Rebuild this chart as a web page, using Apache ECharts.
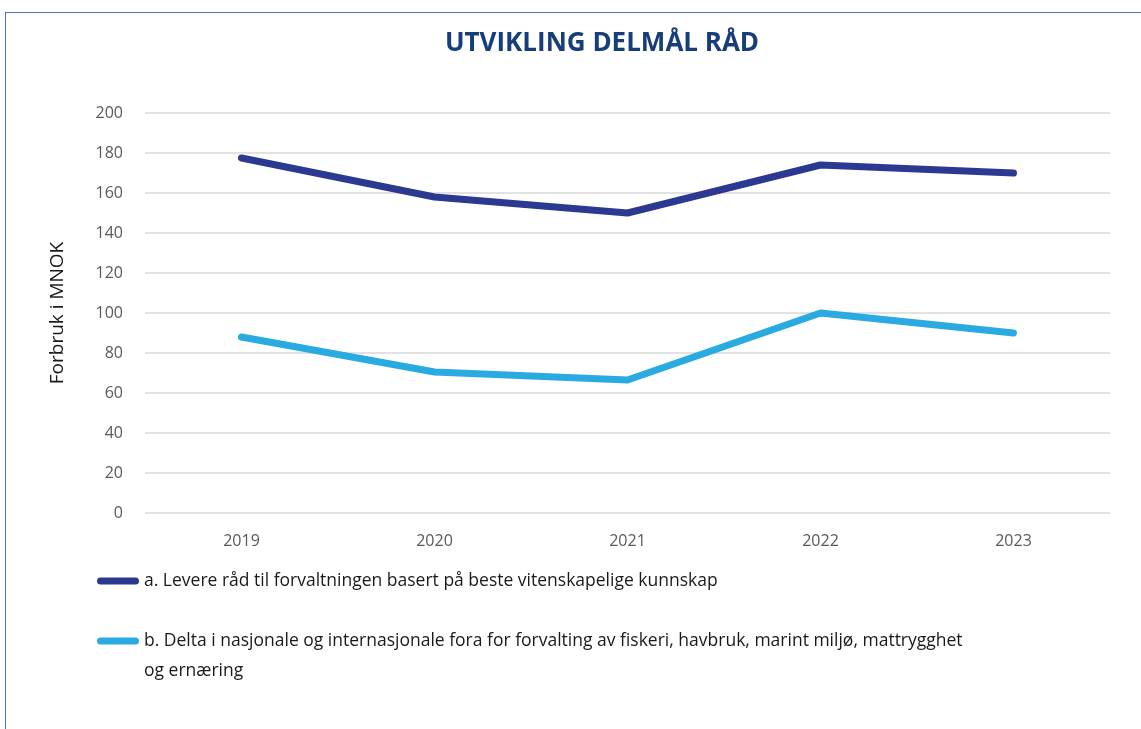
<!DOCTYPE html>
<html>
<head>
<meta charset="utf-8">
<style>
  html, body { margin: 0; padding: 0; background: #fff; }
  #frame { position: absolute; left: 5px; top: 12px; right: 0; bottom: 0;
           border-left: 1.5px solid #4a72b8; border-top: 1.5px solid #4a72b8; }
  #chart { position: absolute; left: 0; top: 0; width: 1141px; height: 729px; }
</style>
<script src="https://cdn.jsdelivr.net/npm/echarts@6/dist/echarts.min.js"></script>
</head>
<body>
<div id="frame"></div>
<div id="chart"></div>
<script>
  const years = ['2019', '2020', '2021', '2022', '2023'];
  const seriesA = [177.5, 158, 150, 174, 170];
  const seriesB = [88, 70.5, 66.5, 100, 90];
  const nameA = 'a. Levere råd til forvaltningen basert på beste vitenskapelige kunnskap';
  const nameB = 'b. Delta i nasjonale og internasjonale fora for forvalting av fiskeri, havbruk, marint miljø, mattrygghet og ernæring';

  // legend icons are 42x60 boxes; the rounded bar sits at the middle (a)
  // or at the first text line (b, which wraps to two lines)
  const barIcon = (y) =>
    'path://M0,0L0.01,0M0,60L0.01,60' +
    `M3.5,${y}L38.5,${y}A3.5,3.5,0,0,1,38.5,${y + 7}L3.5,${y + 7}A3.5,3.5,0,0,1,3.5,${y}Z`;

  const chart = echarts.init(document.getElementById('chart'));

  chart.setOption({
    title: {
      text: 'UTVIKLING DELMÅL RÅD',
      left: 597,
      top: 26,
      textAlign: 'center',
      textStyle: {
        fontFamily: 'Open Sans',
        fontWeight: 'bold',
        fontSize: 26,
        color: '#173d7a',
      },
    },
    grid: {
      left: 145,
      right: 31,
      top: 113,
      bottom: 216,
    },
    legend: {
      orient: 'vertical',
      left: 92,
      top: 546,
      itemGap: 15,
      itemWidth: 42,
      itemHeight: 60,
      data: [
        { name: nameA, icon: barIcon(26.5) },
        { name: nameB, icon: barIcon(11.5) },
      ],
      textStyle: {
        fontFamily: 'Open Sans',
        fontSize: 17.5,
        color: '#1a1a1a',
        width: 834,
        overflow: 'break',
        lineHeight: 30,
      },
    },
    xAxis: {
      type: 'category',
      data: years,
      boundaryGap: true,
      axisLine: { show: false },
      axisTick: { show: false },
      axisLabel: {
        margin: 20,
        fontFamily: 'Open Sans',
        fontSize: 16,
        color: '#595959',
      },
    },
    yAxis: {
      type: 'value',
      min: 0,
      max: 200,
      interval: 20,
      name: 'Forbruk i MNOK',
      nameLocation: 'middle',
      nameGap: 78,
      nameTextStyle: {
        fontFamily: 'Open Sans',
        fontSize: 19,
        color: '#1a1a1a',
      },
      axisLabel: {
        margin: 22,
        fontFamily: 'Open Sans',
        fontSize: 16,
        color: '#595959',
      },
      splitLine: {
        lineStyle: { color: '#d9d9d9', width: 1.5 },
      },
    },
    series: [
      {
        name: nameA,
        type: 'line',
        data: seriesA,
        showSymbol: false,
        symbol: 'none',
        color: '#2b3990',
        lineStyle: { width: 7, cap: 'round', join: 'round' },
        animation: false,
      },
      {
        name: nameB,
        type: 'line',
        data: seriesB,
        showSymbol: false,
        symbol: 'none',
        color: '#29abe2',
        lineStyle: { width: 7, cap: 'round', join: 'round' },
        animation: false,
      },
    ],
  });
</script>
</body>
</html>
